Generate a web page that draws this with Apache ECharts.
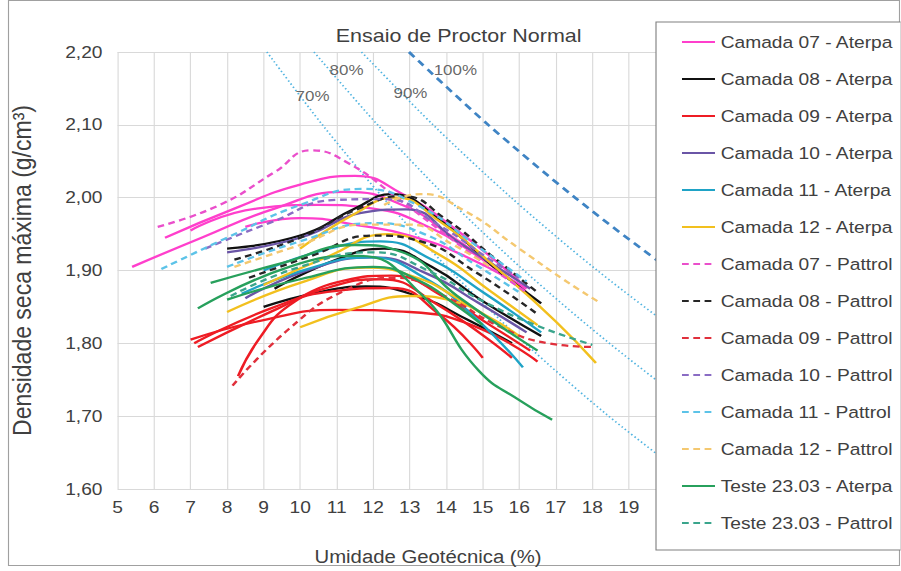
<!DOCTYPE html>
<html>
<head>
<meta charset="utf-8">
<script src="https://cdn.jsdelivr.net/npm/echarts@6/dist/echarts.min.js"></script>
<style>
html,body{margin:0;padding:0;background:#fff;overflow:hidden;}
#c{height:571px;transform-origin:0 0;}
</style>
</head>
<body>
<div id="c"></div>
<script>
// ---------- DATA ----------
const legendNames = [
  'Camada 07 - Aterpa','Camada 08 - Aterpa','Camada 09 - Aterpa','Camada 10 - Aterpa',
  'Camada 11 - Aterpa','Camada 12 - Aterpa','Camada 07 - Pattrol','Camada 08 - Pattrol',
  'Camada 09 - Pattrol','Camada 10 - Pattrol','Camada 11 - Pattrol','Camada 12 - Pattrol',
  'Teste 23.03 - Aterpa','Teste 23.03 - Pattrol'
];

const c07Aterpa = [
  [[5.4,1.905],[7.3,1.945],[9.3,1.985],[11.2,2.008],[12.8,1.99],[14.2,1.945],[15.5,1.9]],
  [[6.3,1.945],[8.2,1.985],[10,2.018],[11.5,2.03],[12.8,2.005],[14.3,1.955],[16,1.885]],
  [[7,1.955],[8.8,1.985],[10.5,1.99],[12,1.985],[13.5,1.96],[15,1.915],[16.2,1.87]],
  [[8.5,1.96],[10,1.972],[11.6,1.962],[13,1.948],[14.5,1.92],[16.2,1.875]]
];
const c08Aterpa = [
  [[8,1.93],[10,1.948],[11.5,1.985],[12.5,2.005],[13.8,1.97],[15.3,1.905],[16.6,1.855]],
  [[9.3,1.875],[11,1.915],[12.3,1.93],[13.6,1.905],[15,1.858],[16.6,1.81]],
  [[9,1.85],[10.5,1.87],[11.8,1.878],[13.2,1.865],[14.6,1.832],[15.8,1.8]]
];
const c09Aterpa = [
  [[7,1.805],[9,1.832],[11,1.846],[13,1.843],[14.8,1.823],[16.5,1.775]],
  [[7.1,1.8],[9.2,1.848],[11,1.872],[12.5,1.876],[13.8,1.84],[15,1.78]],
  [[7.2,1.795],[9.4,1.848],[11.2,1.886],[12.5,1.893],[14,1.862],[15.2,1.825],[16.3,1.79]],
  [[8.3,1.755],[8.9,1.808],[9.7,1.852],[10.8,1.877],[12.2,1.888],[13.7,1.855],[15.8,1.78]]
];
const c10Aterpa = [
  [[8,1.925],[10,1.945],[11.8,1.98],[12.9,1.984],[14.3,1.94],[16.3,1.875]],
  [[8.5,1.862],[10.3,1.902],[12,1.918],[13.5,1.895],[14.9,1.855],[16.2,1.815]]
];
const c11Aterpa = [
  [[8.4,1.868],[10.2,1.902],[11.9,1.918],[13.4,1.89],[14.8,1.835],[16.1,1.767]],
  [[9,1.9],[10.8,1.93],[12.2,1.94],[13.6,1.915],[15.1,1.867],[16.6,1.815]]
];
const c12Aterpa = [
  [[10,1.93],[11.5,1.978],[12.6,2.0],[13.8,1.968],[15.5,1.898],[17,1.83],[18.1,1.773]],
  [[9,1.88],[10.8,1.92],[12.4,1.95],[13.8,1.922],[15.2,1.872],[16.5,1.825]],
  [[8,1.843],[10,1.883],[11.8,1.904],[13.2,1.89],[14.2,1.865],[15,1.84]],
  [[10,1.822],[11.5,1.848],[13,1.865],[14.2,1.858],[15.2,1.835],[16,1.81]]
];
const c07Pattrol = [
  [[6.1,1.96],[7.8,1.99],[9.3,2.035],[10.3,2.065],[11.3,2.048],[12.7,1.998],[14.5,1.93],[16.2,1.87]]
];
const c08Pattrol = [
  [[8.2,1.915],[10,1.945],[11.6,1.985],[12.8,2.002],[14,1.97],[15.3,1.918],[16.5,1.87]],
  [[8.6,1.89],[10.3,1.92],[12,1.948],[13.3,1.94],[14.8,1.898],[16.5,1.84]]
];
const c09Pattrol = [
  [[8.15,1.742],[9.7,1.82],[11.2,1.872],[12.6,1.89],[14,1.864],[15.5,1.822],[16.8,1.8],[18,1.795]]
];
const c10Pattrol = [
  [[7.4,1.93],[9.2,1.966],[11,1.997],[12.3,1.998],[13.8,1.962],[15.2,1.915],[16,1.89]]
];
const c11Pattrol = [
  [[6.2,1.902],[8,1.945],[10,1.99],[11.7,2.012],[13.2,1.99],[14.8,1.935],[16.2,1.885]],
  [[8,1.905],[10,1.94],[12,1.965],[13.4,1.95],[14.8,1.908],[16,1.87]]
];
const c12Pattrol = [
  [[12.3,1.99],[13.3,2.005],[14.5,1.982],[16,1.93],[17.2,1.888],[18.2,1.856]],
  [[8.2,1.905],[10,1.935],[11.8,1.963],[13,1.963],[14.2,1.935],[15.2,1.905]]
];
const testeAterpa = [
  [[7.2,1.848],[9.7,1.905],[11.6,1.92],[13.3,1.868],[14.9,1.762],[16,1.722],[16.9,1.695]],
  [[7.55,1.883],[9.5,1.91],[11.5,1.935],[12.8,1.925],[14.3,1.865],[16.5,1.79]],
  [[8,1.86],[10,1.888],[12,1.905],[13.3,1.885],[14.2,1.855],[15,1.825]]
];
const testePattrol = [
  [[8.1,1.865],[10,1.905],[12,1.925],[13.5,1.9],[15,1.858],[16.5,1.824],[18,1.798]]
];

// saturation curves (70, 80, 90, 100 %)
const sat70  = [[9.09,2.20],[10.61,2.10],[12.27,2.00],[14.11,1.90],[16.16,1.80],[18.45,1.70],[21.02,1.60]];
const sat80  = [[10.38,2.20],[12.12,2.10],[14.02,2.00],[16.13,1.90],[18.47,1.80],[21.08,1.70],[24.0,1.60]];
const sat90  = [[11.68,2.20],[13.64,2.10],[15.78,2.00],[18.14,1.90],[20.78,1.80],[23.7,1.70]];
const sat100 = [[12.98,2.20],[15.15,2.10],[17.53,2.00],[20.16,1.90],[23.1,1.80]];
const satLabels = [
  {name:'70%', value:[10.34,2.140]},
  {name:'80%', value:[11.27,2.175]},
  {name:'90%', value:[13.02,2.144]},
  {name:'100%', value:[14.25,2.175]}
];

const xMin = 5, xMax = 22, xStep = 1, xLastLabel = 19;
const yMin = 1.6, yMax = 2.2, yStep = 0.1;

// ---------- LAYOUT ----------
const S = 1.13;            // horizontal stretch of the reference
const W = 901 / S;
const el = document.getElementById('c');
el.style.width = W + 'px';
el.style.transform = 'scaleX(' + S + ')';

const FONT = 'Liberation Sans, Arial, sans-serif';
const TXT = '#404040';

const styles = {
  'Camada 07 - Aterpa':   {color:'#ff3fcc', dash:false},
  'Camada 08 - Aterpa':   {color:'#111111', dash:false},
  'Camada 09 - Aterpa':   {color:'#ee1c24', dash:false},
  'Camada 10 - Aterpa':   {color:'#6a55a6', dash:false},
  'Camada 11 - Aterpa':   {color:'#1fa3c6', dash:false},
  'Camada 12 - Aterpa':   {color:'#f2c01e', dash:false},
  'Camada 07 - Pattrol':  {color:'#ea4fcb', dash:true},
  'Camada 08 - Pattrol':  {color:'#262626', dash:true},
  'Camada 09 - Pattrol':  {color:'#e0303c', dash:true},
  'Camada 10 - Pattrol':  {color:'#8a6cc4', dash:true},
  'Camada 11 - Pattrol':  {color:'#5cc3e8', dash:true},
  'Camada 12 - Pattrol':  {color:'#f4c870', dash:true},
  'Teste 23.03 - Aterpa': {color:'#27a05c', dash:false},
  'Teste 23.03 - Pattrol':{color:'#3aa58c', dash:true}
};
const seriesData = {
  'Camada 07 - Aterpa': c07Aterpa, 'Camada 08 - Aterpa': c08Aterpa, 'Camada 09 - Aterpa': c09Aterpa,
  'Camada 10 - Aterpa': c10Aterpa, 'Camada 11 - Aterpa': c11Aterpa, 'Camada 12 - Aterpa': c12Aterpa,
  'Camada 07 - Pattrol': c07Pattrol, 'Camada 08 - Pattrol': c08Pattrol, 'Camada 09 - Pattrol': c09Pattrol,
  'Camada 10 - Pattrol': c10Pattrol, 'Camada 11 - Pattrol': c11Pattrol, 'Camada 12 - Pattrol': c12Pattrol,
  'Teste 23.03 - Aterpa': testeAterpa, 'Teste 23.03 - Pattrol': testePattrol
};

const series = [];
function satSeries(data, dashed) {
  return {
    type:'line', data, smooth:0.3, symbol:'none', silent:true, z:1,
    lineStyle: dashed
      ? {color:'#3f84c4', width:2.6, type:[7,5]}
      : {color:'#4fb3e0', width:1.6, type:[1.4,2.4]}
  };
}
series.push(satSeries(sat70,false), satSeries(sat80,false), satSeries(sat90,false), satSeries(sat100,true));

legendNames.forEach((nm, i) => {
  const st = styles[nm];
  seriesData[nm].forEach(curve => {
    series.push({
      type:'line', name:nm, data:curve, smooth:0.5,
      symbol:'none', z:2 + i * 0.01,
      itemStyle:{color:st.color},
      lineStyle:{color:st.color, width:2.3, type: st.dash ? [6,4] : 'solid'}
    });
  });
});

series.push({
  type:'scatter', data:satLabels, symbolSize:0, silent:true, z:3,
  label:{show:true, position:'inside', formatter:p => p.name, color:TXT, fontSize:15, fontFamily:FONT}
});

const legendFont = 17;
const option = {
  animation:false,
  backgroundColor:'#ffffff',
  title:{
    text:'Ensaio de Proctor Normal', left:453 / S, top:21, textAlign:'center',
    textStyle:{fontSize:19, fontWeight:'normal', color:TXT, fontFamily:FONT}
  },
  graphic:[{
    type:'rect', silent:true, z:0,
    shape:{x:8.5 / S, y:0.5, width:(899.5 - 8.5) / S, height:565},
    style:{fill:'none', stroke:'#a0a0a0', lineWidth:1}
  }],
  grid:{left:117 / S, right:W - 738.4 / S, top:52, bottom:82},
  xAxis:{
    type:'value', min:xMin, max:xMax, interval:xStep,
    name:'Umidade Geotécnica (%)', nameLocation:'middle', nameGap:59,
    nameTextStyle:{fontSize:18, color:TXT, fontFamily:FONT},
    axisLine:{show:false}, axisTick:{show:false},
    axisLabel:{fontSize:17, color:TXT, fontFamily:FONT, margin:10,
      formatter:v => (v <= xLastLabel ? String(v) : '')},
    splitLine:{lineStyle:{color:'#d9d9d9', width:1}}
  },
  yAxis:{
    type:'value', min:yMin, max:yMax, interval:yStep,
    name:'Densidade seca máxima (g/cm³)', nameLocation:'middle', nameGap:73,
    nameTextStyle:{fontSize:23, color:TXT, fontFamily:FONT},
    axisLine:{show:false}, axisTick:{show:false},
    axisLabel:{fontSize:17, color:TXT, fontFamily:FONT, margin:15 / S,
      formatter:v => v.toFixed(2).replace('.', ',')},
    splitLine:{lineStyle:{color:'#d9d9d9', width:1}}
  },
  legend:{
    data:legendNames, orient:'vertical', left:656 / S, top:22,
    padding:[11.5, 6.6, 18.5, 22], itemGap:37 - legendFont, itemWidth:33 / S, itemHeight:14,
    backgroundColor:'#ffffff', borderColor:'#808080', borderWidth:1,
    textStyle:{fontSize:legendFont, color:TXT, fontFamily:FONT},
    itemStyle:{opacity:0}, z:10
  },
  series
};

const chart = echarts.init(el, null, {renderer:'svg', width:W, height:571});
chart.setOption(option);
</script>
</body>
</html>
